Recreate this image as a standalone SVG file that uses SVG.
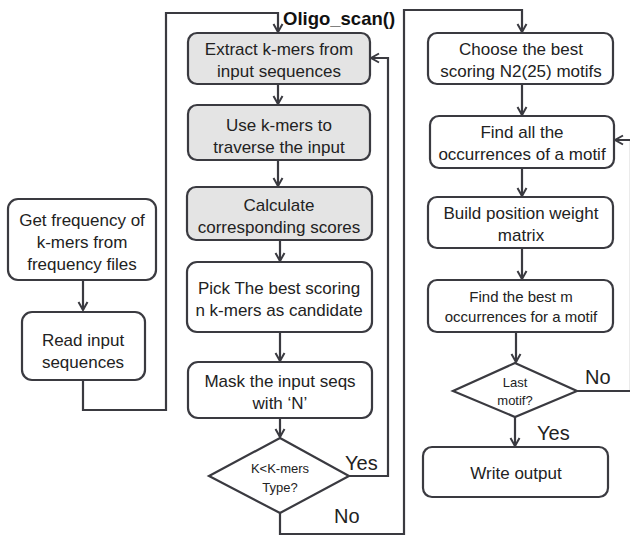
<svg xmlns="http://www.w3.org/2000/svg" width="630" height="537" viewBox="0 0 630 537">
<defs>
<marker id="arr" viewBox="0 0 12 12" refX="10" refY="6" markerWidth="12" markerHeight="12" markerUnits="userSpaceOnUse" orient="auto">
<polyline points="2,1.5 10,6 2,10.5" fill="none" stroke="#3a3a40" stroke-width="2"/>
</marker>
<style>
.box{fill:#ffffff;stroke:#3a3a40;stroke-width:2.2}
.gray{fill:#e4e4e4}
.t{font-family:"Liberation Sans",Arial,sans-serif;font-size:17px;fill:#222;text-anchor:middle}
.s{font-size:15px}
.xs{font-size:13px}
.lbl{font-family:"Liberation Sans",Arial,sans-serif;font-size:20px;fill:#222}
.c{fill:none;stroke:#3a3a40;stroke-width:2.2}
</style>
</defs>
<rect width="630" height="537" fill="#ffffff"/>

<g id="connectors">
<line class="c" x1="83" y1="280" x2="83" y2="310" marker-end="url(#arr)"/>
<polyline class="c" points="83,380 83,410 166,410 166,13 278,13 278,32" marker-end="url(#arr)"/>
<line class="c" x1="278" y1="84" x2="278" y2="104" marker-end="url(#arr)"/>
<line class="c" x1="278" y1="160" x2="278" y2="186" marker-end="url(#arr)"/>
<line class="c" x1="280" y1="240" x2="280" y2="261" marker-end="url(#arr)"/>
<line class="c" x1="280" y1="332" x2="280" y2="361" marker-end="url(#arr)"/>
<line class="c" x1="280" y1="418" x2="280" y2="437" marker-end="url(#arr)"/>
<polyline class="c" points="349,476 388,476 388,58 371,58" marker-end="url(#arr)"/>
<polyline class="c" points="280,513 280,534 404,534 404,10 522,10 522,32" marker-end="url(#arr)"/>
<line class="c" x1="522" y1="84" x2="522" y2="115" marker-end="url(#arr)"/>
<line class="c" x1="522" y1="168" x2="522" y2="196" marker-end="url(#arr)"/>
<line class="c" x1="522" y1="248" x2="522" y2="279" marker-end="url(#arr)"/>
<line class="c" x1="516" y1="332" x2="516" y2="362" marker-end="url(#arr)"/>
<line class="c" x1="515" y1="417" x2="515" y2="446" marker-end="url(#arr)"/>
<polyline class="c" points="577,391 631,391 631,140 615,140" marker-end="url(#arr)"/>
<text class="lbl" x="345" y="470">Yes</text>
<text class="lbl" x="334" y="523">No</text>
<text class="lbl" x="585" y="384">No</text>
<text class="lbl" x="537" y="440">Yes</text>
</g>

<g id="title">
<text x="283" y="25" style="font-family:'Liberation Sans',Arial,sans-serif;font-size:18.5px;font-weight:bold;fill:#111">Oligo_scan()</text>
</g>

<g id="get-frequency">
<rect class="box" x="8" y="199" width="148" height="81" rx="10"/>
<text class="t" x="82" y="226">Get frequency of</text>
<text class="t" x="82" y="248">k-mers from</text>
<text class="t" x="82" y="270">frequency files</text>
</g>

<g id="read-input">
<rect class="box" x="22" y="312" width="123" height="68" rx="10"/>
<text class="t" x="83" y="346">Read input</text>
<text class="t" x="83" y="368">sequences</text>
</g>

<g id="extract">
<rect class="box gray" x="188" y="33" width="182" height="51" rx="9"/>
<text class="t" x="279" y="55">Extract k-mers from</text>
<text class="t" x="279" y="77">input sequences</text>
</g>

<g id="use-kmers">
<rect class="box gray" x="188" y="105" width="182" height="55" rx="9"/>
<text class="t" x="279" y="131">Use k-mers to</text>
<text class="t" x="279" y="153">traverse the input</text>
</g>

<g id="calculate">
<rect class="box gray" x="187" y="187" width="185" height="53" rx="9"/>
<text class="t" x="279" y="211">Calculate</text>
<text class="t" x="279" y="233">corresponding scores</text>
</g>

<g id="pick">
<rect class="box" x="187" y="262" width="185" height="70" rx="10"/>
<text class="t" x="279" y="294">Pick The best scoring</text>
<text class="t" x="279" y="316">n k-mers as candidate</text>
</g>

<g id="mask">
<rect class="box" x="188" y="362" width="184" height="56" rx="10"/>
<text class="t" x="280" y="387">Mask the input seqs</text>
<text class="t" x="280" y="409">with ‘N’</text>
</g>

<g id="kmers-type">
<polygon class="box" points="280,438 349,476 280,513 209,476"/>
<text class="t xs" x="280" y="473">K&lt;K-mers</text>
<text class="t xs" x="280" y="492">Type?</text>
</g>

<g id="choose">
<rect class="box" x="428" y="33" width="185" height="51" rx="9"/>
<text class="t" x="521" y="55">Choose the best</text>
<text class="t" x="521" y="77">scoring N2(25) motifs</text>
</g>

<g id="find-all">
<rect class="box" x="430" y="116" width="184" height="52" rx="9"/>
<text class="t" x="522" y="138">Find all the</text>
<text class="t" x="522" y="160">occurrences of a motif</text>
</g>

<g id="build-pwm">
<rect class="box" x="428" y="197" width="185" height="51" rx="9"/>
<text class="t" x="521" y="219">Build position weight</text>
<text class="t" x="521" y="241">matrix</text>
</g>

<g id="find-best-m">
<rect class="box" x="428" y="280" width="185" height="52" rx="9"/>
<text class="t s" x="521" y="302">Find the best m</text>
<text class="t s" x="521" y="322">occurrences for a motif</text>
</g>

<g id="last-motif">
<polygon class="box" points="515,363 577,391 515,417 453,391"/>
<text class="t xs" x="515" y="387">Last</text>
<text class="t xs" x="515" y="405">motif?</text>
</g>

<g id="write-output">
<rect class="box" x="423" y="447" width="185" height="50" rx="9"/>
<text class="t" x="516" y="479">Write output</text>
</g>
</svg>
